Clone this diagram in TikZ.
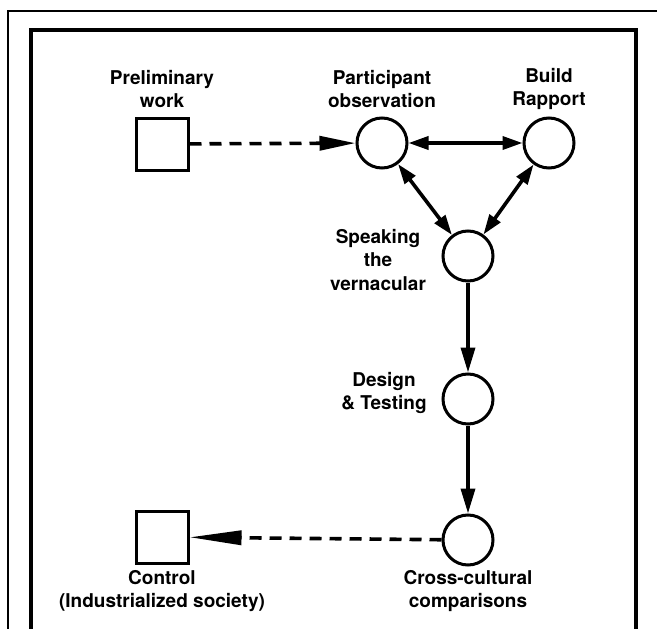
\documentclass[tikz,border=0pt]{standalone}
\usepackage{tikz}
\usepackage{fontspec}
\setmainfont{TeX Gyre Heros}
\usetikzlibrary{arrows.meta, positioning}

\begin{document}
\begin{tikzpicture}[x=1pt, y=-1pt,
		stage/.style={circle, draw, line width=3pt, minimum size=50pt, inner sep=0pt},
		ctrl/.style={rectangle, draw, line width=3pt, minimum size=52pt, inner sep=0pt},
		lbl/.style={align=center, font=\bfseries\fontsize{19}{23.5}\selectfont, inner sep=0pt},
		link/.style={line width=3.6pt, {Triangle[length=20pt,width=13pt]}-{Triangle[length=20pt,width=13pt]}},
		flow/.style={line width=3.6pt, -{Triangle[length=25pt,width=14pt]}},
		hint/.style={line width=3.6pt, dash pattern=on 12pt off 8pt}]
				\useasboundingbox (0,0) rectangle (657,629);
				% frames
				\draw[line width=1.4pt] (8,640) -- (8,11) -- (670,11);
				\draw[line width=4pt] (31,640) -- (31,30) -- (636,30) -- (636,640);
				
				% squares and circles
				\node[ctrl] (prelim) at (162,144) {};
				\node[ctrl] (control) at (162,537) {};
				\node[stage] (observe) at (382,143) {};
				\node[stage] (rapport) at (549,143) {};
				\node[stage] (speak) at (468,256) {};
				\node[stage] (design) at (468,399) {};
				\node[stage] (compare) at (468,540) {};
				
				% labels
				\node[lbl] (prelimtxt) at (162,89) {Preliminary\\work};
				\node[lbl] (observetxt) at (382,89) {Participant\\observation};
				\node[lbl] (rapporttxt) at (549,89) {Build\\Rapport};
				\node[lbl] (speaktxt) at (378,260) {Speaking\\the\\vernacular};
				\node[lbl] (designtxt) at (384,393) {Design\\\& Testing};
				\node[lbl] (controltxt) at (162,591) {Control\\(Industrialized society)};
				\node[lbl] (comparetxt) at (468,591) {Cross-cultural\\comparisons};
				
				% arrows
				\draw[hint, -{Triangle[length=36pt,width=14pt]}] (prelim) -- (observe);
				\draw[hint, -{Triangle[length=52pt,width=14pt]}] (compare) -- (control);
				\draw[link] (observe) -- (rapport);
				\draw[link] (observe) -- (speak);
				\draw[link] (rapport) -- (speak);
				\draw[flow] (speak) -- (design);
				\draw[flow] (design) -- (compare);
				
				\end{tikzpicture}
\end{document}
